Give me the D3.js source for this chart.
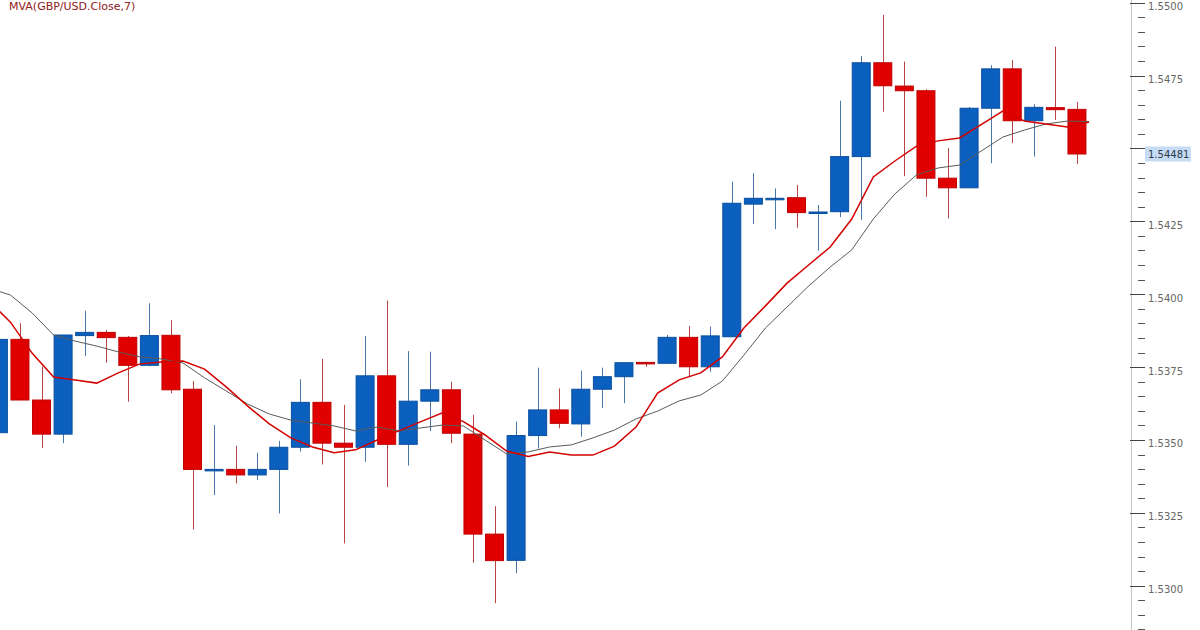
<!DOCTYPE html>
<html>
<head>
<meta charset="utf-8">
<script src="https://cdn.jsdelivr.net/npm/d3@7"></script>
<style>
  html, body { margin: 0; padding: 0; background: #fff; }
  svg { display: block; }
</style>
</head>
<body>
<svg id="chart" width="1200" height="630"></svg>
<script>
// ---- data ----
const title = "MVA(GBP/USD.Close,7)";
const categories = ["1","2","3","4","5","6","7","8","9","10","11","12","13","14","15","16","17","18","19","20",
  "21","22","23","24","25","26","27","28","29","30","31","32","33","34","35","36","37","38","39","40",
  "41","42","43","44","45","46","47","48","49","50","51","52"];
const openV  = [1.53525,1.53845,1.53637,1.53520,1.53858,1.53869,1.53852,1.53756,1.53859,1.53674,
  1.53398,1.53399,1.53380,1.53399,1.53475,1.53629,1.53489,1.53475,1.53720,1.53485,
  1.53633,1.53672,1.53520,1.53177,1.53087,1.53515,1.53603,1.53555,1.53674,1.53717,
  1.53766,1.53763,1.53852,1.53751,1.53854,1.54309,1.54328,1.54331,1.54281,1.54283,
  1.54472,1.54794,1.54714,1.54698,1.54398,1.54365,1.54638,1.54773,1.54595,1.54640,1.54634];
const highV  = [1.53845,1.53900,1.53751,1.53860,1.53943,1.53877,1.53857,1.53969,1.53911,1.53702,
  1.53551,1.53480,1.53456,1.53497,1.53708,1.53778,1.53620,1.53857,1.53978,1.53805,
  1.53803,1.53700,1.53586,1.53273,1.53563,1.53748,1.53677,1.53738,1.53748,1.53765,
  1.53768,1.53860,1.53891,1.53889,1.54386,1.54415,1.54363,1.54375,1.54306,1.54664,
  1.54817,1.54958,1.54798,1.54703,1.54501,1.54642,1.54786,1.54803,1.54652,1.54849,1.54660];
const lowV   = [1.53525,1.53637,1.53473,1.53489,1.53788,1.53765,1.53631,1.53753,1.53660,1.53193,
  1.53311,1.53351,1.53363,1.53248,1.53460,1.53416,1.53145,1.53425,1.53338,1.53412,
  1.53531,1.53489,1.53079,1.52940,1.53043,1.53471,1.53540,1.53511,1.53609,1.53626,
  1.53751,1.53763,1.53717,1.53734,1.53854,1.54241,1.54223,1.54228,1.54149,1.54264,
  1.54255,1.54626,1.54405,1.54334,1.54260,1.54365,1.54449,1.54518,1.54472,1.54598,1.54447];
const closeV = [1.53845,1.53637,1.53520,1.53860,1.53869,1.53851,1.53756,1.53858,1.53672,1.53399,
  1.53399,1.53380,1.53399,1.53475,1.53629,1.53489,1.53475,1.53720,1.53485,1.53633,
  1.53672,1.53523,1.53177,1.53086,1.53515,1.53603,1.53557,1.53674,1.53717,1.53765,
  1.53764,1.53852,1.53751,1.53857,1.54312,1.54329,1.54329,1.54280,1.54282,1.54472,
  1.54794,1.54715,1.54698,1.54398,1.54365,1.54638,1.54773,1.54595,1.54641,1.54633,1.54481];
const maFast = [1.53977,1.53904,1.53798,1.53716,1.53706,1.53695,1.53730,1.53761,1.53767,1.53771,
  1.53743,1.53682,1.53616,1.53555,1.53507,1.53476,1.53456,1.53466,1.53500,1.53531,
  1.53562,1.53592,1.53563,1.53517,1.53462,1.53443,1.53459,1.53448,1.53448,1.53479,
  1.53544,1.53661,1.53706,1.53730,1.53785,1.53884,1.53960,1.54038,1.54100,1.54162,
  1.54258,1.54402,1.54457,1.54508,1.54526,1.54536,1.54582,1.54628,1.54594,1.54584,1.54574,1.54591];
const maSlow = [1.54021,1.53997,1.53936,1.53860,1.53839,1.53822,1.53802,1.53785,1.53778,1.53764,
  1.53713,1.53668,1.53623,1.53589,1.53568,1.53558,1.53548,1.53531,1.53544,1.53531,
  1.53541,1.53551,1.53548,1.53500,1.53452,1.53459,1.53476,1.53483,1.53507,1.53534,
  1.53572,1.53599,1.53634,1.53654,1.53702,1.53791,1.53884,1.53956,1.54028,1.54093,
  1.54152,1.54258,1.54344,1.54409,1.54433,1.54443,1.54491,1.54539,1.54563,1.54584,1.54594,1.54592];
const tickValues = [1.5300,1.5325,1.5350,1.5375,1.5400,1.5425,1.5450,1.5475,1.5500];
const tickLabels = ["1.5300","1.5325","1.5350","1.5375","1.5400","1.5425","1.5450","1.5475","1.5500"];
const lastPriceLabel = "1.54481";

// ---- layout ----
const W = 1200, H = 630;
const axisX = 1131;
const svg = d3.select("#chart");
svg.append("rect").attr("width", W).attr("height", H).attr("fill", "#fff");

const x = d3.scaleBand().domain(categories).range([-12.4, 1109.3]).paddingInner(0.12).paddingOuter(0.06);
const y = d3.scaleLinear().domain([1.53, 1.55]).range([585.7, 2.7]);
const bw = x.bandwidth();

const candles = openV.map((o, i) => ({cat: categories[i], o, h: highV[i], l: lowV[i], c: closeV[i]}));

const COL_UP = "#0b5fbf", COL_UP_EDGE = "#0a4f9e", COL_UP_WICK = "#4a78aa";
const COL_DN = "#e00000", COL_DN_EDGE = "#c00000", COL_DN_WICK = "#b84444";

const plot = svg.append("g");

// wicks
plot.selectAll("line.wick").data(candles).join("line")
  .attr("class", "wick")
  .attr("x1", d => Math.round(x(d.cat) + bw / 2) + 0.5)
  .attr("x2", d => Math.round(x(d.cat) + bw / 2) + 0.5)
  .attr("y1", d => y(d.h))
  .attr("y2", d => y(d.l))
  .attr("stroke", d => d.c >= d.o ? COL_UP_WICK : COL_DN_WICK)
  .attr("stroke-width", 1);

// bodies
plot.selectAll("rect.body").data(candles).join("rect")
  .attr("class", "body")
  .attr("x", d => x(d.cat) + 0.5)
  .attr("width", bw - 1)
  .attr("y", d => y(Math.max(d.o, d.c)))
  .attr("height", d => Math.max(1.5, Math.abs(y(d.o) - y(d.c))))
  .attr("fill", d => d.c >= d.o ? COL_UP : COL_DN)
  .attr("stroke", d => d.c >= d.o ? COL_UP_EDGE : COL_DN_EDGE)
  .attr("stroke-width", 1);

// moving averages
const maLine = d3.line().x((v, i) => x(categories[i])).y(v => y(v));
plot.append("path").datum(maSlow)
  .attr("d", maLine)
  .attr("fill", "none")
  .attr("stroke", "#5a5a5a")
  .attr("stroke-width", 1);
plot.append("path").datum(maFast)
  .attr("d", maLine)
  .attr("fill", "none")
  .attr("stroke", "#d40000")
  .attr("stroke-width", 1.5);

// ---- right axis ----
const ax = svg.append("g");
ax.append("line")
  .attr("x1", axisX + 0.5).attr("x2", axisX + 0.5)
  .attr("y1", 0).attr("y2", H)
  .attr("stroke", "#c8c8c8").attr("stroke-width", 1);

const minorTicks = d3.range(1.5285, 1.55001, 0.0005);
ax.selectAll("line.minor").data(minorTicks).join("line")
  .attr("class", "minor")
  .attr("x1", axisX + 7).attr("x2", axisX + 14)
  .attr("y1", d => Math.round(y(d)) + 0.5)
  .attr("y2", d => Math.round(y(d)) + 0.5)
  .attr("stroke", "#555").attr("stroke-width", 1);

ax.selectAll("line.major").data(tickValues).join("line")
  .attr("class", "major")
  .attr("x1", axisX - 1).attr("x2", axisX + 14)
  .attr("y1", d => Math.round(y(d)) + 0.5)
  .attr("y2", d => Math.round(y(d)) + 0.5)
  .attr("stroke", "#444").attr("stroke-width", 1);

ax.selectAll("text.tl").data(tickValues.filter((d, i) => tickLabels[i] !== "1.5450")).join("text")
  .attr("class", "tl")
  .attr("x", axisX + 17)
  .attr("y", d => y(d) + 7.5)
  .attr("font-family", "DejaVu Sans, Verdana, sans-serif")
  .attr("font-size", 10)
  .attr("fill", "#666")
  .text(d => tickLabels[tickValues.indexOf(d)]);

// last price label
const lastY = y(closeV[closeV.length - 1]);
ax.append("rect")
  .attr("x", axisX + 14).attr("y", lastY - 7.5)
  .attr("width", 46).attr("height", 15)
  .attr("fill", "#c5dcf4");
ax.append("text")
  .attr("x", axisX + 17).attr("y", lastY + 4)
  .attr("font-family", "DejaVu Sans, Verdana, sans-serif")
  .attr("font-size", 10)
  .attr("fill", "#2b3a4a")
  .text(lastPriceLabel);

// title
svg.append("text")
  .attr("x", 9).attr("y", 10)
  .attr("font-family", "DejaVu Sans, Verdana, sans-serif")
  .attr("font-size", 11)
  .attr("fill", "#8e2020")
  .text(title);
</script>
</body>
</html>
